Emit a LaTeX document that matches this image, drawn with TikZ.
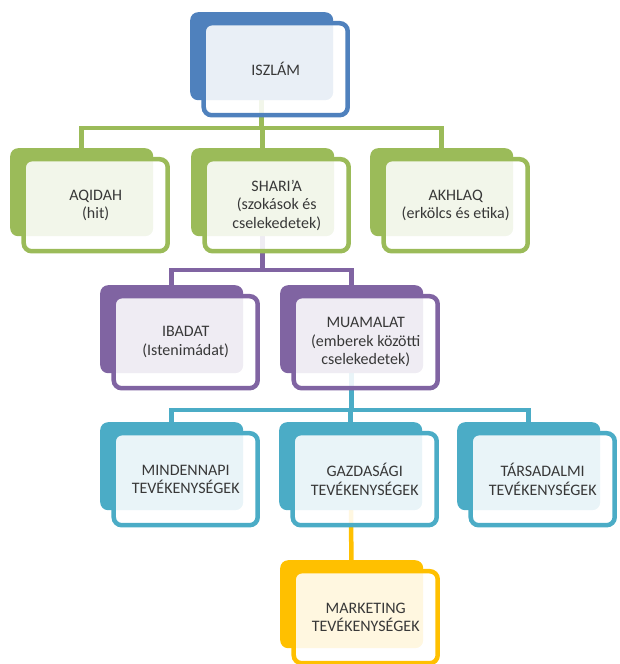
\documentclass[tikz,border=0pt]{standalone}
\usepackage{fontspec}
\setmainfont{Carlito}
\usetikzlibrary{backgrounds}

\definecolor{isblue}{HTML}{4F81BD}
\definecolor{isgreen}{HTML}{9BBB59}
\definecolor{ispurple}{HTML}{8064A2}
\definecolor{isteal}{HTML}{4BACC6}
\definecolor{isgold}{HTML}{FFC000}
\definecolor{istext}{HTML}{383838}

\tikzset{
  backcard/.style={fill=#1, rounded corners=8pt, anchor=north west,
    minimum width=143pt, minimum height=88pt, inner sep=0pt},
  frontcard/.style={draw=#1, line width=4.5pt, fill=white, fill opacity=0.88,
    text opacity=1, rounded corners=8pt, minimum width=144pt, minimum height=92pt,
    inner sep=0pt, align=center, text=istext,
    font=\fontsize{16}{18.5}\selectfont},
  link/.style={draw=#1, line width=4.5pt}
}

\begin{document}
\begin{tikzpicture}[x=1pt,y=-1pt]
  \useasboundingbox (0,0) rectangle (620,664);

  % the cards: back plate, then the framed front with its text
  \foreach \nm/\col/\x/\y/\txt in {
      isz/isblue/190/12/{ISZLÁM},
      aqi/isgreen/10/148/{AQIDAH\\(hit)},
      sha/isgreen/191/148/{SHARI'A\\(szokások és\\cselekedetek)},
      akh/isgreen/370/148/{AKHLAQ\\(erkölcs és etika)},
      iba/ispurple/100/285/{IBADAT\\(Istenimádat)},
      mua/ispurple/280/285/{MUAMALAT\\(emberek közötti\\cselekedetek)},
      min/isteal/100/422/{MINDENNAPI\\TEVÉKENYSÉGEK},
      gaz/isteal/279/422/{GAZDASÁGI\\TEVÉKENYSÉGEK},
      tar/isteal/457/422/{TÁRSADALMI\\TEVÉKENYSÉGEK},
      mar/isgold/280/560/{MARKETING\\TEVÉKENYSÉGEK}} {
    \node[backcard=\col] (\nm-b) at (\x,\y) {};
    \node[frontcard=\col] (\nm) at ([shift={(14pt,-13pt)}]\nm-b.center) {\txt};
  }

  % levels of the tree
  \coordinate (gbar) at (0,128);
  \coordinate (pbar) at (0,270);
  \coordinate (tbar) at (0,410);

  \begin{scope}[on background layer]
    \foreach \kid in {aqi,sha,akh}
      \draw[link=isgreen] (isz-b.center) |- (gbar -| \kid-b.center) -- (\kid-b.center);
    \foreach \kid in {iba,mua}
      \draw[link=ispurple] (sha-b.center) |- (pbar -| \kid-b.center) -- (\kid-b.center);
    \foreach \kid in {min,gaz,tar}
      \draw[link=isteal] (mua-b.center) |- (tbar -| \kid-b.center) -- (\kid-b.center);
    \draw[link=isgold] (gaz-b.center) -- (mar-b.center);
  \end{scope}
\end{tikzpicture}
\end{document}
